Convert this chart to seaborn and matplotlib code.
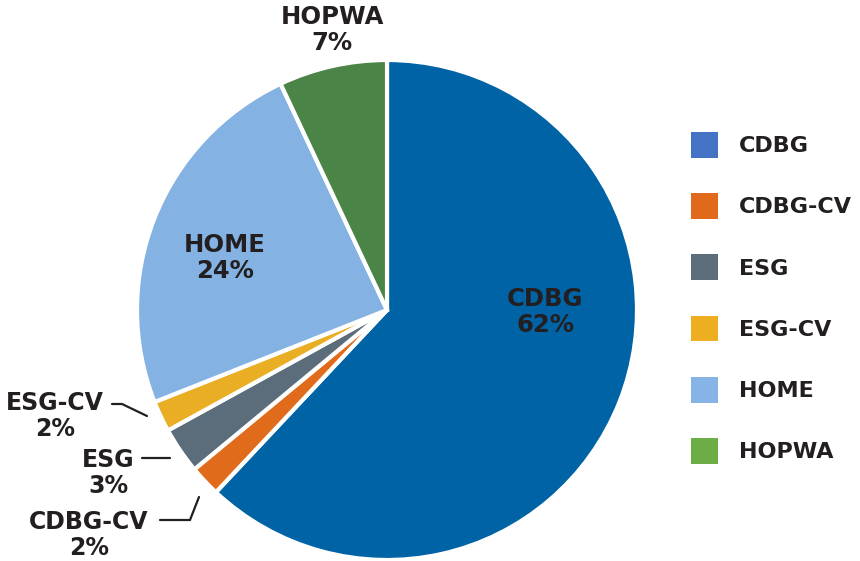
import matplotlib
matplotlib.use("Agg")
import matplotlib.pyplot as plt
from matplotlib.patches import Patch
import seaborn as sns

programs = ["CDBG", "CDBG-CV", "ESG", "ESG-CV", "HOME", "HOPWA"]
shares = [62, 2, 3, 2, 24, 7]
slice_colors = ["#0063A6", "#E06B1B", "#5B6D7A", "#EAAE24", "#84B3E3", "#4B8447"]
legend_colors = ["#4472C4", "#E0691C", "#5B6D7A", "#EDAE22", "#86B4E6", "#6CAD46"]

sns.set_theme(style="white")
plt.rcParams["font.family"] = ["DejaVu Sans"]
txt = "#231F20"

fig = plt.figure(figsize=(8.6, 5.61), dpi=100)
ax = fig.add_axes([137 / 860, 1 / 561, 500 / 860, 500 / 561])

ax.pie(shares, colors=slice_colors, startangle=90, counterclock=False,
       wedgeprops=dict(edgecolor="white", linewidth=3))
ax.set_xlim(-1, 1)
ax.set_ylim(-1, 1)
ax.set_aspect("equal")

def lab(name, val, x, y, size=17):
    ax.text(x, y, f"{name}\n{val}%", ha="center", va="center", fontsize=size,
            fontweight="bold", color=txt, linespacing=1.1, clip_on=False)

# label placement (pie units: centre 0,0 radius 1)
lab("CDBG", shares[0], 0.632, -0.008, 17.5)
lab("HOME", shares[4], -0.648, 0.208, 17.5)
lab("HOPWA", shares[5], -0.22, 1.12, 17.5)
lab("ESG-CV", shares[3], -1.328, -0.424)
lab("ESG", shares[2], -1.116, -0.652)
lab("CDBG-CV", shares[1], -1.192, -0.90)

# leader lines
lk = dict(color=txt, lw=1.6, clip_on=False)
ax.plot([-1.10, -1.06, -0.96], [-0.376, -0.376, -0.424], **lk)
ax.plot([-0.98, -0.868], [-0.592, -0.592], **lk)
ax.plot([-0.908, -0.788, -0.752], [-0.84, -0.84, -0.748], **lk)

handles = [Patch(facecolor=c, edgecolor="none") for c in legend_colors]
fig.legend(handles, programs, loc="upper left", bbox_to_anchor=(671 / 860, 1 - 112 / 561),
           frameon=False, labelcolor=txt, prop=dict(weight="bold", size=16),
           handlelength=1.2, handleheight=1.4, labelspacing=1.6, handletextpad=0.95)

fig.savefig("out.png", dpi=100, facecolor="white")
